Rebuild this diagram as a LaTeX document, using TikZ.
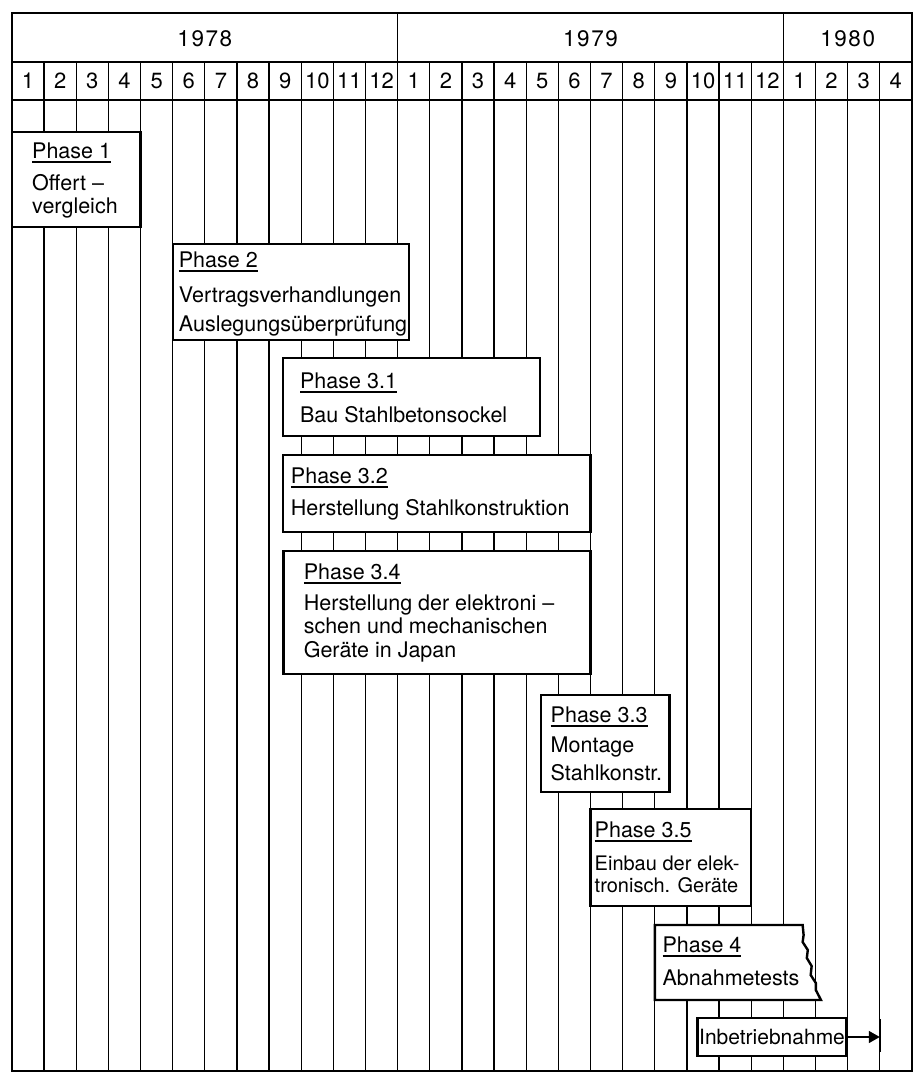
\documentclass[tikz,border=0pt]{standalone}
\usepackage{fontspec}
\setmainfont{TeX Gyre Heros}
\usetikzlibrary{arrows.meta}

\newsavebox\titlebox
\newcommand{\phasetitle}[1]{\sbox\titlebox{#1}\rlap{\rule[-4.5pt]{\wd\titlebox}{1.6pt}}\usebox\titlebox}

\begin{document}
\begin{tikzpicture}[x=32.14pt,y=-1pt,
    frameline/.style={line width=2.4pt},
    gridline/.style={line width=1.3pt},
    boxline/.style={line width=2.4pt,fill=white},
    phasetext/.style={anchor=north west,inner sep=0pt,align=left,font=\fontsize{21.5}{24}\selectfont},
    yeartext/.style={font=\fontsize{22.5}{24}\selectfont\addfontfeature{LetterSpace=7}},
    monthtext/.style={font=\fontsize{22}{24}\selectfont}]
    \useasboundingbox (-0.3734,0) rectangle (28.2514,1073);

    % Raster der Monate
    \foreach \m in {1,...,27}
        \draw[gridline] (\m,62) -- (\m,1071);
    \draw[frameline] (0,13) rectangle (28,1071);
    \draw[frameline] (0,62) -- (28,62);
    \draw[frameline] (0,100) -- (28,100);
    \draw[gridline] (12,13) -- (12,62);
    \draw[gridline] (24,13) -- (24,62);

    % Jahre und Monate
    \node[yeartext] (j78) at (6,39) {1978};
    \node[yeartext] (j79) at (18,39) {1979};
    \node[yeartext] (j80) at (26,39) {1980};
    \foreach \i in {0,...,27} {
        \pgfmathtruncatemacro{\mon}{mod(\i,12)+1}
        \node[monthtext] (m\i) at (\i+0.5,81) {\mon};
    }

    % Phasen
    \draw[boxline] (0,132) rectangle (4,227);
    \node[phasetext,xshift=20pt] (p1) at (0,142.6)
        {\phasetitle{Phase 1}\\[8pt]Offert –\\[-1pt]vergleich};

    \draw[boxline] (5,244) rectangle (12.35,340);
    \node[phasetext,xshift=6pt] (p2) at (5,251.6)
        {\phasetitle{Phase 2}\\[11pt]Vertragsverhandlungen\\[5pt]Auslegungsüberprüfung};

    \draw[boxline] (8.43,358) rectangle (16.42,436);
    \node[phasetext,xshift=17pt] (p31) at (8.43,372.6)
        {\phasetitle{Phase 3.1}\\[10pt]Bau Stahlbetonsockel};

    \draw[boxline] (8.44,455) rectangle (18,532);
    \node[phasetext,xshift=7.5pt] (p32) at (8.44,467.6)
        {\phasetitle{Phase 3.2}\\[8pt]Herstellung Stahlkonstruktion};

    \draw[boxline] (8.45,551) rectangle (18,674);
    \node[phasetext,xshift=20pt] (p34) at (8.45,563.6)
        {\phasetitle{Phase 3.4}\\[7pt]Herstellung der elektroni –\\[-1pt]schen und mechanischen\\Geräte in Japan};

    \draw[boxline] (16.46,695) rectangle (20.46,792);
    \node[phasetext,xshift=9.5pt] (p33) at (16.46,706.6)
        {\phasetitle{Phase 3.3}\\[6pt]Montage\\[4pt]Stahlkonstr.};

    \draw[boxline] (18,809) rectangle (23,906);
    \node[phasetext,xshift=4pt,font=\fontsize{20}{24}\selectfont] (p35) at (18,821.6)
        {\phasetitle{\fontsize{21.5}{24}\selectfont Phase 3.5}\\[9pt]Einbau der elek-\\[-2pt]tronisch. Geräte};

    \draw[boxline] (20,925) -- (24.6,925) -- (24.63,935) -- (24.6,942) -- (24.76,950)
        -- (24.73,958) -- (24.88,966) -- (24.85,975) -- (25.01,983) -- (25.01,990)
        -- (25.17,1000) -- (20,1000) -- cycle;
    \node[phasetext,xshift=7.5pt] (p4) at (20,936.6)
        {\phasetitle{Phase 4}\\[9pt]Abnahmetests};

    % Inbetriebnahme
    \node[draw,line width=2.4pt,fill=white,minimum width=148.8pt,minimum height=38pt,
        inner sep=1pt,anchor=east,font=\fontsize{21}{24}\selectfont] (inb) at (26,1037) {Inbetriebnahme};
    \coordinate (ziel) at (27,1037);
    \draw[line width=2.2pt] (27,1019) -- (27,1052);
    \draw[line width=1.6pt,-{Triangle[length=11pt,width=12pt]}] (inb.east) -- (ziel);
\end{tikzpicture}
\end{document}
